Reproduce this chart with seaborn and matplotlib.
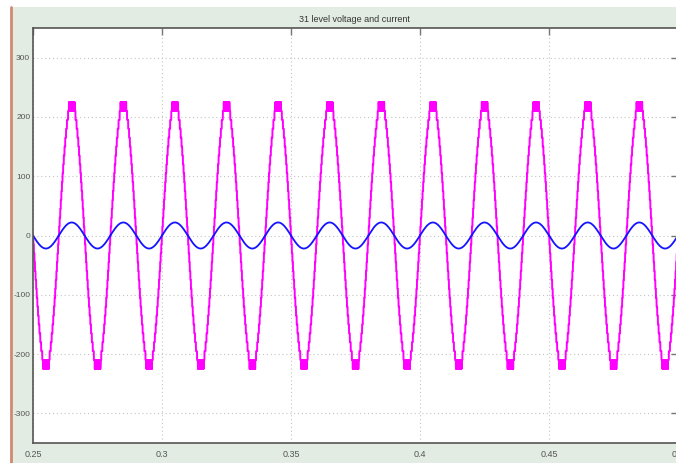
import matplotlib
matplotlib.use("Agg")
import matplotlib.pyplot as plt
import seaborn as sns
import pandas as pd
import numpy as np
from matplotlib.patches import Rectangle
from matplotlib.lines import Line2D

# values
t_start, t_end = 0.25, 0.5        # s
freq = 50                          # Hz
v_peak = 225                       # V, top level of the 31-level staircase
v_step = 15                        # V per level (15 levels each side)
i_peak = 22                        # A
xticks = [0.25, 0.3, 0.35, 0.4, 0.45, 0.5]
xtick_labels = ["0.25", "0.3", "0.35", "0.4", "0.45", "0.5"]
yticks = [-300, -200, -100, 0, 100, 200, 300]
title = "31 level voltage and current"

# build the traces
t = np.arange(t_start, t_end + 1e-6, 1e-5)
s = np.sin(2 * np.pi * freq * t)
volt = v_step * np.round(v_peak * s / v_step)
# switching between the top two levels around each peak
chatter = (np.floor(t / 1e-4) % 2 == 0)
near_peak = np.abs(s) > 0.94
volt = np.where(near_peak & chatter, np.sign(s) * (v_peak - v_step), volt)
volt = np.where(near_peak & ~chatter, np.sign(s) * v_peak, volt)
curr = i_peak * s

df = pd.DataFrame({"t": t, "voltage": volt, "current": curr})

sns.set_style("white")
plt.rcParams["font.family"] = ["Liberation Sans", "DejaVu Sans"]
plt.rcParams["axes.unicode_minus"] = False

fig = plt.figure(figsize=(6.76, 4.63), dpi=100)
fig.patch.set_facecolor("white")
W, H = 676, 463

# scope window background and left border
fig.patches.append(Rectangle((11 / W, 0), 1 - 11 / W, 1 - 7 / H,
                             transform=fig.transFigure, facecolor="#e3ece3",
                             edgecolor="none", zorder=-10))
fig.lines.append(Line2D([10.5 / W, 10.5 / W], [0, 1 - 7 / H],
                        transform=fig.transFigure, color="#d08a70", lw=2,
                        zorder=-9))

ax = fig.add_axes([33 / W, 20 / H, (678 - 33) / W, (443 - 28) / H])
ax.set_zorder(5)
ax.set_facecolor("white")

sns.lineplot(data=df, x="t", y="voltage", ax=ax, color="#ff00ff", lw=1.4,
             estimator=None, sort=False)
sns.lineplot(data=df, x="t", y="current", ax=ax, color="#1414ff", lw=1.3,
             estimator=None, sort=False)

ax.set_xlim(t_start, t_end)
ax.set_ylim(-350, 350)
ax.set_xticks(xticks)
ax.set_xticklabels(xtick_labels)
ax.set_yticks(yticks)
ax.set_xlabel("")
ax.set_ylabel("")

ax.grid(True, color="#c4c4c4", linestyle=(0, (1, 2.5)), lw=0.8)
for sp in ax.spines.values():
    sp.set_color("#555555")
    sp.set_linewidth(1.2)
ax.tick_params(direction="in", length=5, width=1, color="#777777",
               top=True, right=True, labelsize=6.5, labelcolor="#555555")
ax.tick_params(axis="y", pad=2, labelsize=6)
ax.tick_params(axis="x", pad=5)

fig.text(354 / W, 1 - 19 / H, title, ha="center", va="center",
         fontsize=6.5, color="#333333")

fig.savefig("out.png", dpi=100, facecolor=fig.get_facecolor())
